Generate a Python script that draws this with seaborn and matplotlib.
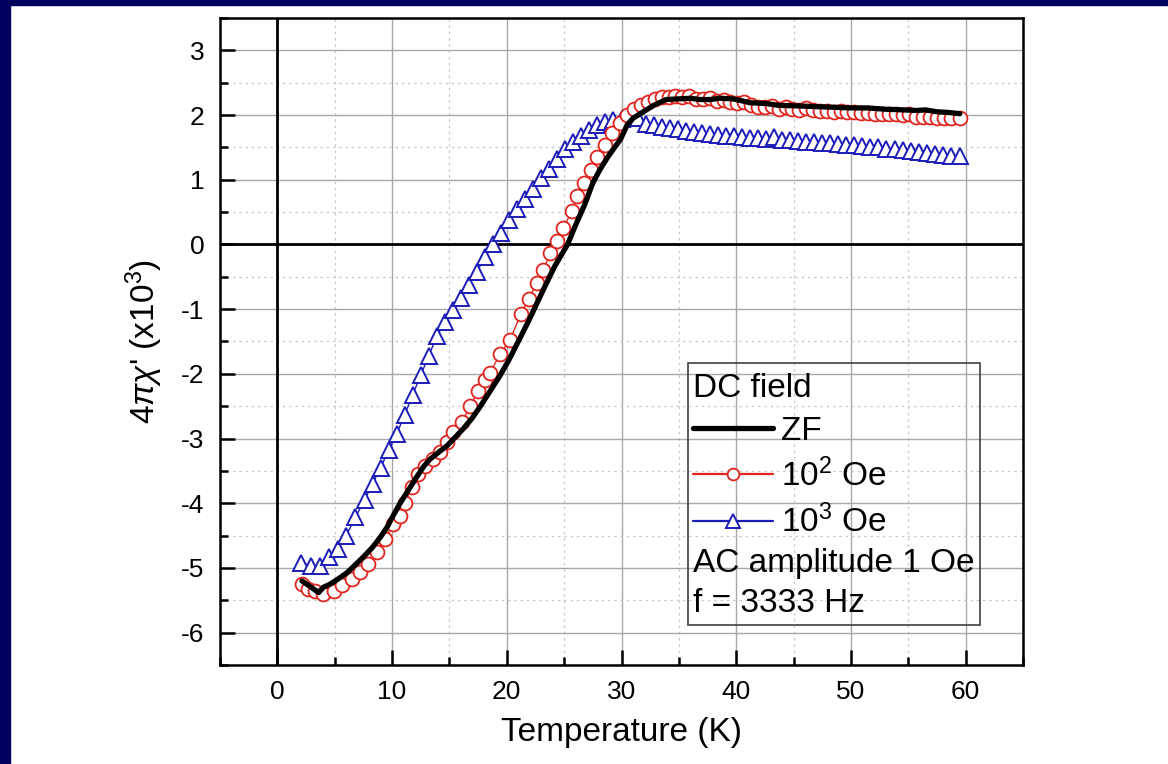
import matplotlib
matplotlib.use("Agg")
import matplotlib.pyplot as plt
import seaborn as sns
import pandas as pd
from matplotlib.patches import Rectangle
from matplotlib.ticker import MultipleLocator

# ---------------- data ----------------
zf_T = [2.15, 2.8, 3.6, 4.0, 4.6, 5.3, 6.1, 6.8, 7.5, 8.3, 9.0, 9.6, 10.1, 10.7,
        11.3, 12.2, 12.8, 13.3, 14.0, 14.8, 15.5, 16.2, 17.0, 17.7, 18.5, 19.4,
        20.2, 21.0, 21.8, 22.6, 23.4, 24.2, 25.3, 26.0, 26.8, 27.5, 28.1, 28.8,
        29.4, 29.9, 30.5, 31.0, 31.9, 32.8, 33.9, 35.0, 36.0, 36.8, 37.8, 38.5,
        39.7, 40.5, 41.2, 42.5, 43.7, 45.6, 47.0, 48.5, 50.0, 51.4, 53.0, 54.5,
        55.7, 56.5, 57.5, 58.5, 59.5]
zf_chi = [-5.20, -5.28, -5.38, -5.30, -5.25, -5.17, -5.07, -4.95, -4.83, -4.68,
          -4.52, -4.36, -4.19, -4.00, -3.83, -3.58, -3.42, -3.32, -3.22, -3.11,
          -2.98, -2.85, -2.68, -2.50, -2.28, -2.03, -1.78, -1.50, -1.22, -0.92,
          -0.62, -0.33, 0.00, 0.30, 0.62, 0.95, 1.15, 1.35, 1.50, 1.62, 1.85,
          1.95, 2.05, 2.15, 2.24, 2.25, 2.26, 2.24, 2.24, 2.26, 2.25, 2.22, 2.19,
          2.18, 2.15, 2.14, 2.13, 2.12, 2.11, 2.11, 2.09, 2.08, 2.07, 2.08, 2.05,
          2.04, 2.02]

oe100_T = [2.15, 2.7, 3.3, 4.0, 4.9, 5.6, 6.5, 7.2, 7.9, 8.7, 9.4, 10.1, 10.7,
           11.15, 11.7, 12.3, 12.9, 13.6, 14.2, 14.8, 15.35, 16.1, 16.8, 17.5,
           18.1, 18.55, 19.4, 20.3, 21.2, 21.9, 22.6, 23.2, 23.8, 24.4, 24.9,
           25.7, 26.1, 26.7, 27.3, 27.9, 28.6, 29.2, 29.9, 30.5, 31.1, 31.7,
           32.3, 32.9, 33.5, 34.1, 34.7, 35.3, 35.9, 36.5, 37.1, 37.7, 38.3,
           38.9, 39.5, 40.1, 40.7, 41.3, 41.9, 42.5, 43.1, 43.7, 44.3, 44.9,
           45.5, 46.1, 46.7, 47.3, 47.9, 48.5, 49.1, 49.7, 50.3, 50.9, 51.5,
           52.1, 52.7, 53.3, 53.9, 54.5, 55.1, 55.7, 56.3, 56.9, 57.5, 58.1,
           58.7, 59.5]
oe100_chi = [-5.25, -5.32, -5.35, -5.40, -5.35, -5.27, -5.17, -5.07, -4.94,
             -4.76, -4.55, -4.32, -4.19, -3.99, -3.75, -3.55, -3.42, -3.32,
             -3.21, -3.06, -2.90, -2.75, -2.50, -2.26, -2.10, -1.98, -1.70,
             -1.47, -1.08, -0.85, -0.59, -0.39, -0.13, 0.05, 0.26, 0.51, 0.75,
             0.95, 1.15, 1.35, 1.54, 1.72, 1.88, 2.00, 2.10, 2.15, 2.20, 2.25,
             2.28, 2.28, 2.30, 2.28, 2.29, 2.25, 2.25, 2.26, 2.22, 2.24, 2.20,
             2.18, 2.20, 2.15, 2.13, 2.12, 2.14, 2.10, 2.12, 2.10, 2.08, 2.11,
             2.08, 2.07, 2.06, 2.05, 2.06, 2.04, 2.05, 2.03, 2.03, 2.02, 2.02,
             2.01, 2.02, 2.00, 2.01, 1.97, 1.97, 1.97, 1.96, 1.96, 1.95, 1.95]

oe1000_T = [2.1, 2.9, 3.7, 4.5, 5.3, 6.0, 6.8, 7.6, 8.3, 9.0, 9.7, 10.4, 11.1,
            11.8, 12.5, 13.2, 13.9, 14.6, 15.3, 16.0, 16.7, 17.4, 18.1, 18.8,
            19.5, 20.2, 20.9, 21.6, 22.3, 23.0, 23.7, 24.4, 25.1, 25.8, 26.5,
            27.2, 27.9, 28.6, 29.3, 30.0, 30.7, 31.4, 32.1, 32.8, 33.5, 34.2,
            34.9, 35.6, 36.3, 37.0, 37.7, 38.4, 39.1, 39.8, 40.5, 41.2, 41.9,
            42.6, 43.3, 44.0, 44.7, 45.4, 46.1, 46.8, 47.5, 48.2, 48.9, 49.6,
            50.3, 51.0, 51.7, 52.4, 53.1, 53.8, 54.5, 55.2, 55.9, 56.6, 57.3,
            58.0, 58.7, 59.5]
oe1000_chi = [-4.92, -4.97, -4.97, -4.83, -4.70, -4.50, -4.22, -3.95, -3.70,
              -3.45, -3.18, -2.93, -2.63, -2.32, -2.02, -1.72, -1.42, -1.20,
              -1.02, -0.82, -0.62, -0.42, -0.20, 0.00, 0.18, 0.38, 0.55, 0.70,
              0.86, 1.02, 1.17, 1.32, 1.47, 1.58, 1.68, 1.77, 1.84, 1.89, 1.92,
              1.94, 1.95, 1.95, 1.86, 1.84, 1.82, 1.80, 1.78, 1.76, 1.74, 1.72,
              1.71, 1.69, 1.68, 1.67, 1.66, 1.65, 1.64, 1.63, 1.66, 1.62, 1.61,
              1.60, 1.59, 1.58, 1.57, 1.57, 1.55, 1.54, 1.53, 1.52, 1.50, 1.50,
              1.48, 1.47, 1.46, 1.44, 1.43, 1.41, 1.40, 1.39, 1.37, 1.36]

labels = ["ZF", "10$^2$ Oe", "10$^3$ Oe"]
x_ticks = [0, 10, 20, 30, 40, 50, 60]
y_ticks = [-6, -5, -4, -3, -2, -1, 0, 1, 2, 3]

# ---------------- style ----------------
sns.set_theme(style="white")
plt.rcParams["font.family"] = ["Liberation Sans", "DejaVu Sans"]
plt.rcParams["mathtext.fontset"] = "custom"
plt.rcParams["mathtext.rm"] = "Liberation Sans"
plt.rcParams["mathtext.it"] = "Liberation Sans:italic"
plt.rcParams["axes.unicode_minus"] = False
for k in ["text.color", "axes.labelcolor", "xtick.color", "ytick.color",
          "xtick.labelcolor", "ytick.labelcolor"]:
    plt.rcParams[k] = "black"

RED = "#e0251f"
BLUE = "#1c1cb8"

fig = plt.figure(figsize=(11.68, 7.64), dpi=100, facecolor="white")
ax = fig.add_axes([220 / 1168, 1 - 665 / 764, 803 / 1168, 647 / 764])

# navy frame strips
fig.patches.append(Rectangle((0, 0), 10 / 1168, 1, transform=fig.transFigure,
                             color="#00005e", zorder=0))
fig.patches.append(Rectangle((0, 1 - 5 / 764), 1, 5 / 764, transform=fig.transFigure,
                             color="#00005e", zorder=0))

df_zf = pd.DataFrame({"T": zf_T, "chi": zf_chi})
df_2 = pd.DataFrame({"T": oe100_T, "chi": oe100_chi})
df_3 = pd.DataFrame({"T": oe1000_T, "chi": oe1000_chi})

sns.lineplot(data=df_3, x="T", y="chi", ax=ax, color=BLUE, lw=1.0,
             marker="^", markersize=11.5, markerfacecolor="white",
             markeredgecolor=BLUE, markeredgewidth=1.4, label=labels[2], zorder=3)
sns.lineplot(data=df_2, x="T", y="chi", ax=ax, color=RED, lw=1.0,
             marker="o", markersize=10, markerfacecolor="white",
             markeredgecolor=RED, markeredgewidth=1.3, label=labels[1], zorder=4)
sns.lineplot(data=df_zf, x="T", y="chi", ax=ax, color="black", lw=3.8,
             label=labels[0], zorder=5)

ax.set_xlim(-5, 65)
ax.set_ylim(-6.5, 3.5)
ax.set_xticks(x_ticks)
ax.set_yticks(y_ticks)
ax.xaxis.set_minor_locator(MultipleLocator(5))
ax.yaxis.set_minor_locator(MultipleLocator(0.5))

ax.grid(which="major", color="#a8a8a8", lw=1.0, ls="-")
ax.grid(which="minor", color="#c8c8c8", lw=0.9, ls=(0, (2, 3)))
ax.set_axisbelow(True)

ax.axhline(0, color="black", lw=2.0, zorder=2)
ax.axvline(0, color="black", lw=2.0, zorder=2)

for s in ax.spines.values():
    s.set_color("black")
    s.set_linewidth(1.8)

ax.tick_params(which="both", direction="in", top=False, right=False,
               bottom=True, left=True, color="black", width=1.8)
ax.tick_params(which="major", length=11, labelsize=19, pad=11)
ax.tick_params(which="minor", length=6)

ax.set_xlabel("Temperature (K)", fontsize=24, labelpad=9)
ax.set_ylabel("4$\\pi\\chi$' (x10$^3$)", fontsize=24, labelpad=12)

# legend
handles, labs = ax.get_legend_handles_labels()
order = [labs.index(l) for l in labels]
leg = ax.legend([handles[i] for i in order], [labs[i] for i in order],
                title="DC field", loc="upper left",
                bbox_to_anchor=(0.589, 0.452), borderaxespad=0, borderpad=0,
                frameon=False, fontsize=24, title_fontsize=24,
                handlelength=2.4, handletextpad=0.25, labelspacing=0.36,
                alignment="left", markerscale=0.85)
for h in leg.legend_handles:
    h.set_linewidth(max(h.get_linewidth(), 1.6))

ax.add_patch(Rectangle((0.583, 0.062), 0.363, 0.405, transform=ax.transAxes,
                       fill=False, edgecolor="#404040", lw=1.2, zorder=6))
ax.text(0.589, 0.144, "AC amplitude 1 Oe", transform=ax.transAxes,
        fontsize=24, va="baseline", ha="left", zorder=7)
ax.text(0.589, 0.082, "f = 3333 Hz", transform=ax.transAxes,
        fontsize=24, va="baseline", ha="left", zorder=7)

fig.savefig("out.png", dpi=100, facecolor="white")
